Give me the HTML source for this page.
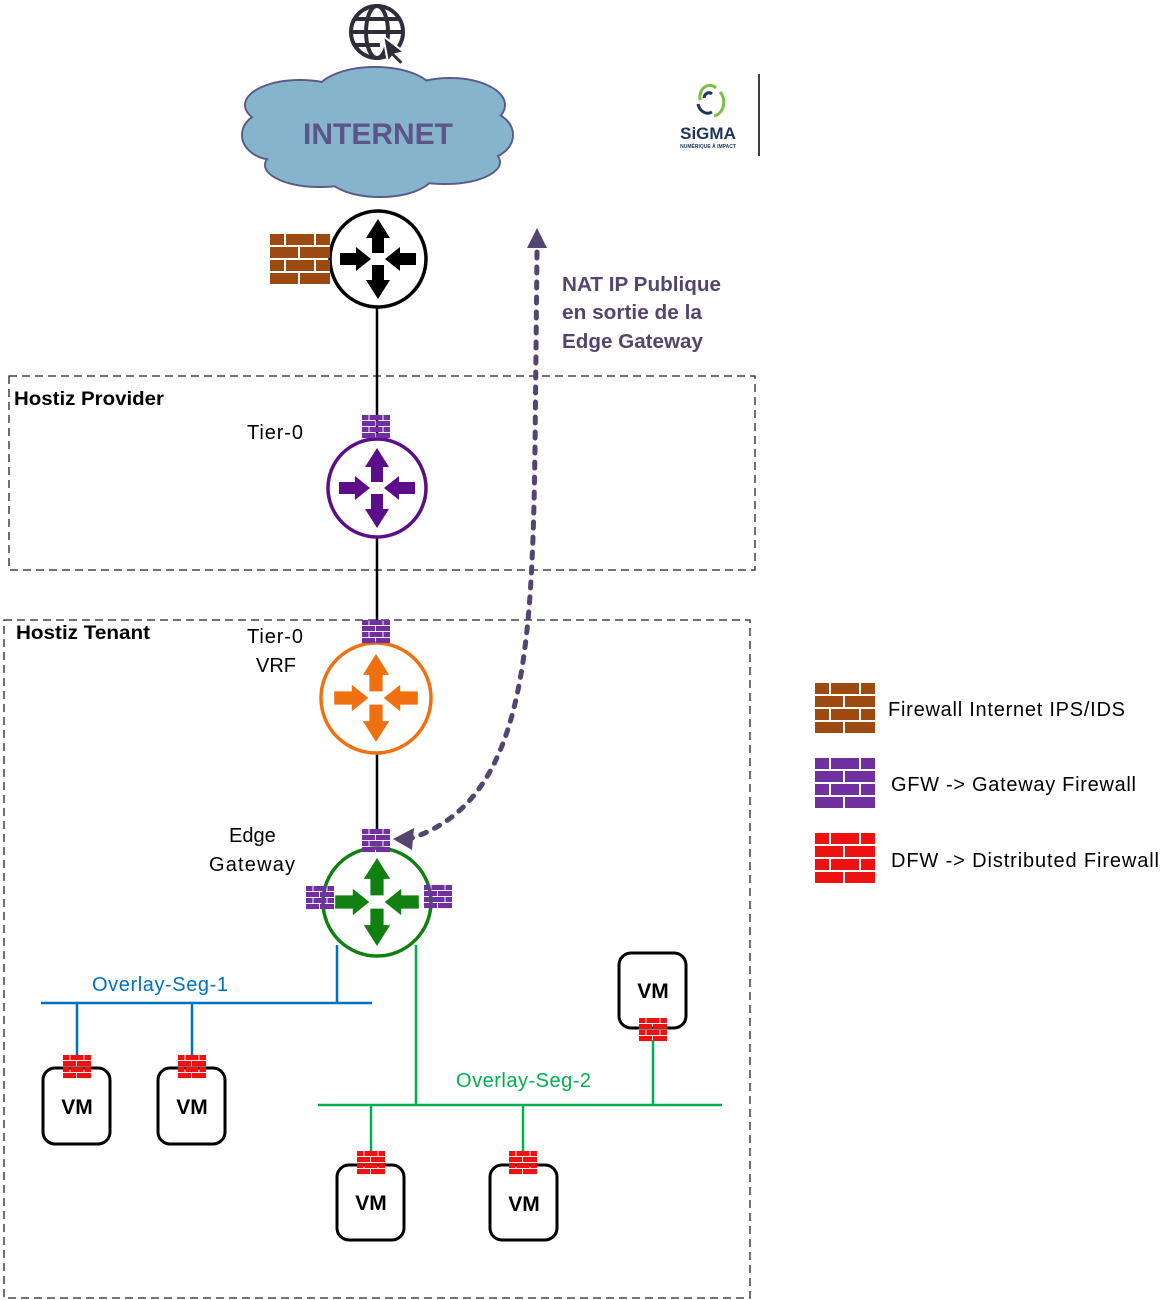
<!DOCTYPE html>
<html><head><meta charset="utf-8"><style>
html,body{margin:0;padding:0;background:#fff;}
svg{display:block;}
text{font-family:"Liberation Sans",sans-serif;}
</style></head><body>
<svg width="1172" height="1300" viewBox="0 0 1172 1300" xmlns="http://www.w3.org/2000/svg">
<defs>
<symbol id="brick" viewBox="0 0 60 52" preserveAspectRatio="none">
<rect x="0" y="0" width="14" height="11"/><rect x="16" y="0" width="28" height="11"/><rect x="46" y="0" width="14" height="11"/>
<rect x="0" y="13" width="28" height="11"/><rect x="30" y="13" width="30" height="11"/>
<rect x="0" y="26" width="14" height="11"/><rect x="16" y="26" width="28" height="11"/><rect x="46" y="26" width="14" height="11"/>
<rect x="0" y="39" width="28" height="11"/><rect x="30" y="39" width="30" height="11"/>
</symbol>
<symbol id="arrows" viewBox="-50 -50 100 100">
<polygon points="0,-40 -12,-21 -6,-21 -6,-6 6,-6 6,-21 12,-21"/>
<polygon points="0,40 -12,21 -6,21 -6,6 6,6 6,21 12,21"/>
<polygon points="-7,0 -22,-12 -22,-6 -38,-6 -38,6 -22,6 -22,12"/>
<polygon points="7,0 22,-12 22,-6 38,-6 38,6 22,6 22,12"/>
</symbol>
</defs>

<!-- globe -->
<g fill="none" stroke="#2e2e3a" stroke-width="4">
<circle cx="377" cy="32" r="26"/>
<ellipse cx="377" cy="32" rx="11" ry="26"/>
<line x1="351" y1="32" x2="403" y2="32"/>
<line x1="355" y1="19" x2="399" y2="19"/>
<line x1="355" y1="45" x2="380" y2="45"/>
</g>
<polygon points="383,36 404,52 396,54 404,62 400,65 392,57 388,62" fill="#2e2e3a" stroke="#fff" stroke-width="2"/>

<!-- cloud -->
<g stroke="#5a5a8a" stroke-width="2" fill="#86b4cc">
<ellipse cx="300" cy="105" rx="55" ry="25"/>
<ellipse cx="375" cy="95" rx="60" ry="28"/>
<ellipse cx="450" cy="105" rx="55" ry="27"/>
<ellipse cx="480" cy="135" rx="33" ry="25"/>
<ellipse cx="275" cy="135" rx="33" ry="25"/>
<ellipse cx="320" cy="165" rx="55" ry="22"/>
<ellipse cx="380" cy="172" rx="55" ry="25"/>
<ellipse cx="445" cy="162" rx="55" ry="22"/>
</g>
<g fill="#86b4cc">
<ellipse cx="300" cy="105" rx="54" ry="24"/>
<ellipse cx="375" cy="95" rx="59" ry="27"/>
<ellipse cx="450" cy="105" rx="54" ry="26"/>
<ellipse cx="480" cy="135" rx="32" ry="24"/>
<ellipse cx="275" cy="135" rx="32" ry="24"/>
<ellipse cx="320" cy="165" rx="54" ry="21"/>
<ellipse cx="380" cy="172" rx="54" ry="24"/>
<ellipse cx="445" cy="162" rx="54" ry="21"/>
<rect x="270" y="105" width="215" height="60"/>
</g>
<text x="378" y="144" font-size="30" font-weight="bold" fill="#5d5489" text-anchor="middle">INTERNET</text>

<!-- SIGMA logo -->
<g fill="none" stroke-width="3">
<path d="M700,100 A10,12 0 0 1 716,88" stroke="#7ac143"/>
<path d="M712,112 A10,12 0 0 1 698,104" stroke="#1d3557"/>
<path d="M704,98 A5,6 0 0 1 712,94" stroke="#1d3557"/>
<path d="M720,92 A12,14 0 0 1 714,116" stroke="#7ac143"/>
</g>
<text x="708" y="139" font-size="17" font-weight="bold" fill="#1d3557" text-anchor="middle">SiGMA</text>
<text x="708" y="148" font-size="5" font-weight="bold" fill="#1d3557" text-anchor="middle">NUMÉRIQUE À IMPACT</text>
<line x1="759" y1="74" x2="759" y2="156" stroke="#000" stroke-width="1.5"/>

<!-- dashed boxes -->
<rect x="9" y="376" width="746" height="194" fill="none" stroke="#222" stroke-width="1.3" stroke-dasharray="8,5"/>
<rect x="4" y="620" width="746" height="678" fill="none" stroke="#222" stroke-width="1.3" stroke-dasharray="8,5"/>

<!-- black vertical lines -->
<g stroke="#000" stroke-width="2.5">
<line x1="377" y1="307" x2="377" y2="440"/>
<line x1="377" y1="538" x2="377" y2="622"/>
<line x1="377" y1="752" x2="377" y2="830"/>
</g>

<!-- blue net -->
<g stroke="#0070c0" stroke-width="2.5">
<line x1="337" y1="945" x2="337" y2="1003"/>
<line x1="41" y1="1003" x2="372" y2="1003"/>
<line x1="77" y1="1003" x2="77" y2="1056"/>
<line x1="192" y1="1003" x2="192" y2="1056"/>
</g>
<!-- green net -->
<g stroke="#00b050" stroke-width="2.5">
<line x1="416" y1="945" x2="416" y2="1105"/>
<line x1="318" y1="1105" x2="722" y2="1105"/>
<line x1="371" y1="1105" x2="371" y2="1152"/>
<line x1="523" y1="1105" x2="523" y2="1152"/>
<line x1="653" y1="1040" x2="653" y2="1105"/>
</g>

<!-- routers -->
<circle cx="378" cy="259" r="48" fill="#fff" stroke="#000" stroke-width="3.5"/>
<use href="#arrows" x="328" y="209" width="100" height="100" fill="#000"/>
<circle cx="377" cy="488" r="49" fill="#fff" stroke="#5c0e8a" stroke-width="3.5"/>
<use href="#arrows" x="327" y="438" width="100" height="100" fill="#5c0e8a"/>
<circle cx="376" cy="698" r="55" fill="#fff" stroke="#f07010" stroke-width="3.5"/>
<use href="#arrows" x="321" y="643" width="110" height="110" fill="#f07010"/>
<circle cx="377" cy="902" r="54" fill="#fff" stroke="#108010" stroke-width="3.5"/>
<use href="#arrows" x="322" y="847" width="110" height="110" fill="#108010"/>

<!-- bricks -->
<use href="#brick" x="270" y="234" width="60" height="52" fill="#9c4a10"/>
<g fill="#7030a0">
<use href="#brick" x="362" y="415" width="28" height="24"/>
<use href="#brick" x="362" y="620" width="28" height="24"/>
<use href="#brick" x="362" y="829" width="28" height="24"/>
<use href="#brick" x="306" y="886" width="28" height="24"/>
<use href="#brick" x="424" y="885" width="28" height="24"/>
<use href="#brick" x="815" y="758" width="60" height="52"/>
</g>
<use href="#brick" x="815" y="683" width="60" height="52" fill="#9c4a10"/>
<use href="#brick" x="815" y="833" width="60" height="52" fill="#ee1111"/>

<!-- VMs -->
<g fill="#fff" stroke="#000" stroke-width="3">
<rect x="43" y="1068" width="67" height="76" rx="12"/>
<rect x="158" y="1068" width="67" height="76" rx="12"/>
<rect x="619" y="953" width="67" height="75" rx="12"/>
<rect x="337" y="1165" width="67" height="75" rx="12"/>
<rect x="490" y="1165" width="67" height="75" rx="12"/>
</g>
<g fill="#ee1111">
<use href="#brick" x="63" y="1055" width="28" height="24"/>
<use href="#brick" x="178" y="1055" width="28" height="24"/>
<use href="#brick" x="639" y="1018" width="28" height="24"/>
<use href="#brick" x="357" y="1151" width="28" height="24"/>
<use href="#brick" x="509" y="1151" width="28" height="24"/>
</g>
<g font-size="21" font-weight="bold" text-anchor="middle" fill="#000">
<text x="77" y="1114">VM</text>
<text x="192" y="1114">VM</text>
<text x="653" y="998">VM</text>
<text x="371" y="1210">VM</text>
<text x="524" y="1211">VM</text>
</g>

<!-- NAT dashed arrow -->
<path d="M537,252 L535,450 C532,650 525,800 412,838" fill="none" stroke="#54456e" stroke-width="5" stroke-linecap="round" stroke-dasharray="6,9"/>
<polygon points="537,228 527,248 547,248" fill="#54456e"/>
<polygon points="393,839 414,828 412,850" fill="#54456e"/>
<g font-size="20" font-weight="bold" fill="#54456e">
<text x="562" y="291" textLength="159" lengthAdjust="spacingAndGlyphs">NAT IP Publique</text>
<text x="562" y="319" textLength="140" lengthAdjust="spacingAndGlyphs">en sortie de la</text>
<text x="562" y="348" textLength="141" lengthAdjust="spacingAndGlyphs">Edge Gateway</text>
</g>

<!-- labels -->
<g font-size="20" fill="#000">
<text x="14" y="405" font-weight="bold" font-size="19" textLength="150" lengthAdjust="spacingAndGlyphs">Hostiz Provider</text>
<text x="16" y="639" font-weight="bold" font-size="19" textLength="134" lengthAdjust="spacingAndGlyphs">Hostiz Tenant</text>
<text x="247" y="439" textLength="56">Tier-0</text>
<text x="247" y="643" textLength="56">Tier-0</text>
<text x="256" y="672">VRF</text>
<text x="229" y="842">Edge</text>
<text x="209" y="871" textLength="86">Gateway</text>
<text x="888" y="716" textLength="237">Firewall Internet IPS/IDS</text>
<text x="891" y="791" textLength="245">GFW -&gt; Gateway Firewall</text>
<text x="891" y="867" textLength="268">DFW -&gt; Distributed Firewall</text>
</g>
<text x="92" y="991" font-size="20" fill="#0070c0" textLength="136">Overlay-Seg-1</text>
<text x="456" y="1087" font-size="20" fill="#00b050" textLength="135">Overlay-Seg-2</text>
</svg>
</body></html>
